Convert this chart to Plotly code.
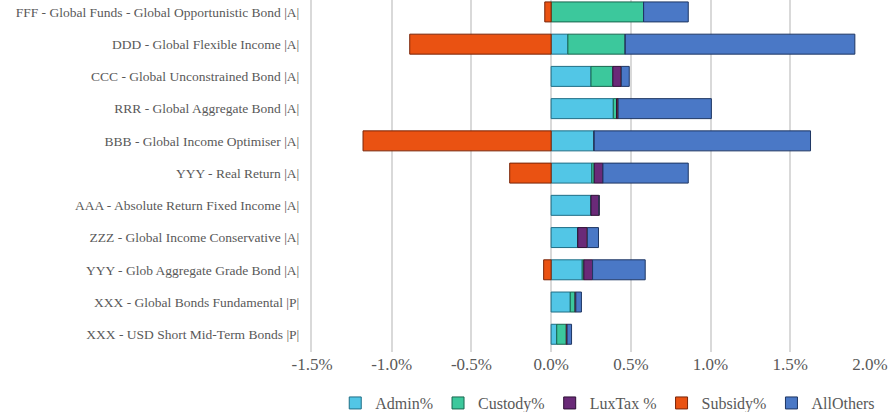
import plotly.graph_objects as go

categories = [
    "FFF - Global Funds - Global Opportunistic Bond |A|",
    "DDD - Global Flexible Income |A|",
    "CCC - Global Unconstrained Bond |A|",
    "RRR - Global Aggregate Bond |A|",
    "BBB - Global Income Optimiser |A|",
    "YYY - Real Return |A|",
    "AAA - Absolute Return Fixed Income |A|",
    "ZZZ - Global Income Conservative |A|",
    "YYY - Glob Aggregate Grade Bond |A|",
    "XXX - Global Bonds Fundamental |P|",
    "XXX - USD Short Mid-Term Bonds |P|",
]

admin = [0.0, 0.105, 0.25, 0.39, 0.27, 0.255, 0.25, 0.167, 0.195, 0.12, 0.035]
custody = [0.58, 0.36, 0.137, 0.02, 0.0, 0.015, 0.0, 0.0, 0.01, 0.03, 0.06]
luxtax = [0.0, 0.0, 0.053, 0.01, 0.0, 0.055, 0.05, 0.06, 0.055, 0.005, 0.005]
subsidy = [-0.04, -0.887, 0.0, 0.0, -1.18, -0.26, 0.0, 0.0, -0.047, 0.0, 0.0]
allothers = [0.28, 1.44, 0.05, 0.585, 1.357, 0.535, 0.0, 0.07, 0.33, 0.035, 0.028]

tick_vals = [-1.5, -1.0, -0.5, 0.0, 0.5, 1.0, 1.5, 2.0]
tick_text = ["-1.5%", "-1.0%", "-0.5%", "0.0%", "0.5%", "1.0%", "1.5%", "2.0%"]

series = [
    ("Admin%", admin, "#52C6E6", "#1F6E86"),
    ("Custody%", custody, "#3CC89C", "#19664F"),
    ("LuxTax %", luxtax, "#6A2A78", "#2E0F36"),
    ("Subsidy%", subsidy, "#EA5212", "#7A2508"),
    ("AllOthers", allothers, "#4A78C6", "#1E3663"),
]

fig = go.Figure()
for name, vals, col, edge in series:
    fig.add_trace(go.Bar(
        y=categories, x=vals, name=name, orientation="h",
        marker=dict(color=col, line=dict(color=edge, width=1)),
        width=0.62,
    ))

font_family = "Liberation Serif, DejaVu Serif, Times New Roman, serif"
fig.update_layout(
    barmode="relative",
    width=891, height=412,
    margin=dict(l=312, r=21, t=0, b=60, autoexpand=False),
    plot_bgcolor="white", paper_bgcolor="white",
    font=dict(family=font_family, color="#595959"),
    showlegend=True,
    legend=dict(
        orientation="h", x=0.53, xanchor="center",
        y=-0.145, yanchor="middle",
        font=dict(size=16, family=font_family, color="#595959"),
        itemwidth=30, traceorder="normal",
    ),
    xaxis=dict(
        range=[-1.5, 2.0], tickvals=tick_vals, ticktext=tick_text,
        showgrid=True, gridcolor="#D9D9D9", gridwidth=2,
        zeroline=True, zerolinecolor="#D9D9D9", zerolinewidth=2,
        tickfont=dict(size=17, family=font_family, color="#595959"),
        ticks="", showline=False, automargin=False,
    ),
    yaxis=dict(
        range=[10.55, -0.37], type="category",
        showline=True, linecolor="#D9D9D9", linewidth=2,
        tickfont=dict(size=13.5, family=font_family, color="#595959"),
        ticks="", ticklabelstandoff=8, showgrid=False, automargin=False,
    ),
)

fig.write_html("out.html", post_script="document.body.style.margin='0';",
               config={"displayModeBar": False})
